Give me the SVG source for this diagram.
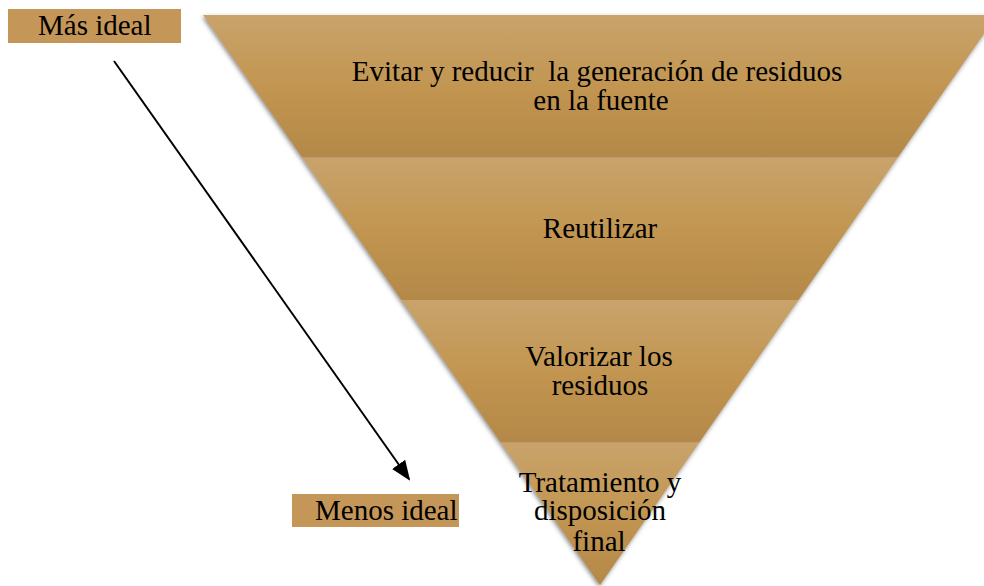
<svg xmlns="http://www.w3.org/2000/svg" width="984" height="586" viewBox="0 0 984 586">
<style>
.t{font-family:"Liberation Serif","Times New Roman",serif;font-size:29px;fill:#000;}
.m{text-anchor:middle;}
.band{fill:url(#g);}
.lbl{fill:#c49658;}
</style>
<defs>
<linearGradient id="g" x1="0" y1="0" x2="0" y2="1">
<stop offset="0" stop-color="#c9a36c"/>
<stop offset="0.5" stop-color="#c29651"/>
<stop offset="1" stop-color="#b48847"/>
</linearGradient>
<filter id="sh" x="-10%" y="-10%" width="120%" height="120%">
<feDropShadow dx="-1" dy="2" stdDeviation="2" flood-color="#444" flood-opacity="0.6"/>
</filter>
<marker id="ah" markerWidth="10" markerHeight="10" refX="9" refY="5" orient="auto" markerUnits="userSpaceOnUse" viewBox="0 0 10 10">
<path d="M0,0 L10,5 L0,10 Z" fill="#000"/>
</marker>
<marker id="ah2" viewBox="0 0 20 20" refX="18" refY="10" markerWidth="20" markerHeight="20" orient="auto" markerUnits="userSpaceOnUse">
<path d="M0,2 L20,10 L0,18 Z" fill="#000"/>
</marker>
</defs>
<rect width="984" height="586" fill="#fff"/>
<g id="pyramid" filter="url(#sh)">
<g id="band1">
<polygon class="band" points="203,15 997,15 897.75,157.5 302.25,157.5"/>
</g>
<g id="band2">
<polygon class="band" points="302.25,157.5 897.75,157.5 798.5,300 401.5,300"/>
</g>
<g id="band3">
<polygon class="band" points="401.5,300 798.5,300 699.25,442.5 500.75,442.5"/>
</g>
<g id="band4">
<polygon class="band" points="500.75,442.5 699.25,442.5 600,585"/>
</g>
</g>
<g id="texts">
<text class="t m" x="597" y="81" xml:space="preserve">Evitar y reducir  la generación de residuos</text>
<text class="t m" x="601" y="110">en la fuente</text>
<text class="t m" x="600" y="238">Reutilizar</text>
<text class="t m" x="599" y="366">Valorizar los</text>
<text class="t m" x="600" y="395">residuos</text>
<text class="t m" x="600" y="492">Tratamiento y</text>
<text class="t m" x="600" y="520">disposición</text>
<text class="t m" x="599" y="551">final</text>
</g>
<g id="mas-ideal">
<rect class="lbl" x="8" y="9" width="173" height="34"/>
<text class="t" x="38" y="35">Más ideal</text>
</g>
<g id="menos-ideal">
<rect class="lbl" x="292" y="494" width="167" height="33"/>
<text class="t" x="315" y="520">Menos ideal</text>
</g>
<g id="connectors">
<line x1="114" y1="61" x2="409" y2="479" stroke="#000" stroke-width="2" marker-end="url(#ah2)"/>
</g>
</svg>
